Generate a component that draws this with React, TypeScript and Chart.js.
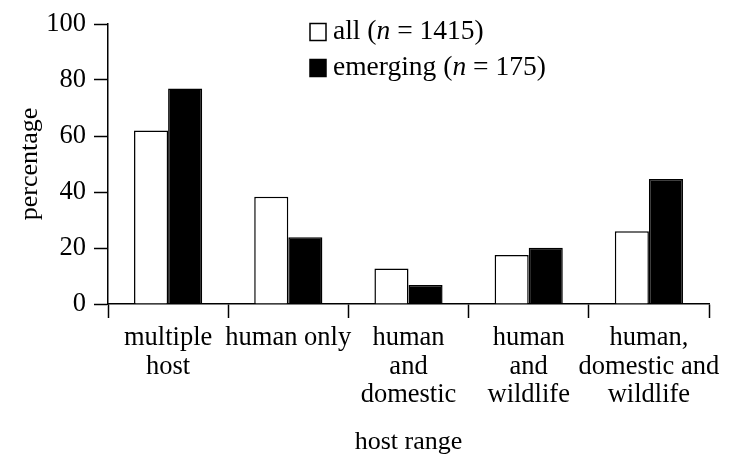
import React, { useEffect, useRef } from "react";
import { Chart, registerables } from "chart.js";

Chart.register(...registerables);

const categories: (string | string[])[] = [
  ["multiple", "host"],
  "human only",
  ["human", "and", "domestic"],
  ["human", "and", "wildlife"],
  ["human,", "domestic and", "wildlife"],
];
const allValues = [62, 38.3, 12.7, 17.5, 26];
const emergingValues = [77, 23.8, 6.8, 20.1, 44.6];
const yTicks = [0, 20, 40, 60, 80, 100];
const legendAll = ["all (", "n", " = 1415)"];
const legendEmerging = ["emerging (", "n", " = 175)"];

const FONT = "'Liberation Serif', 'Times New Roman', serif";

const legendPlugin = {
  id: "customLegend",
  afterDraw(chart: any) {
    const ctx = chart.ctx;
    ctx.save();
    const rows = [
      { parts: legendAll, fill: "#ffffff", y: 32 },
      { parts: legendEmerging, fill: "#000000", y: 68 },
    ];
    rows.forEach((row) => {
      ctx.fillStyle = row.fill;
      ctx.strokeStyle = "#000000";
      ctx.lineWidth = 1.5;
      ctx.fillRect(310, row.y - 8.5, 16, 17);
      ctx.strokeRect(310, row.y - 8.5, 16, 17);
      ctx.fillStyle = "#000000";
      ctx.textBaseline = "middle";
      ctx.textAlign = "left";
      let x = 333;
      row.parts.forEach((p, i) => {
        ctx.font = (i === 1 ? "italic " : "") + "27.5px " + FONT;
        ctx.fillText(p, x, row.y);
        x += ctx.measureText(p).width;
      });
    });
    ctx.restore();
  },
};

export default function App() {
  const ref = useRef<HTMLCanvasElement | null>(null);
  useEffect(() => {
    if (!ref.current) return;
    const chart = new Chart(ref.current, {
      type: "bar",
      data: {
        labels: categories,
        datasets: [
          {
            label: "all (n = 1415)",
            data: allValues,
            backgroundColor: "#ffffff",
            borderColor: "#000000",
            borderWidth: 1.5,
            categoryPercentage: 0.567,
            barPercentage: 1,
          },
          {
            label: "emerging (n = 175)",
            data: emergingValues,
            backgroundColor: "#000000",
            borderColor: "#000000",
            borderWidth: 1.5,
            categoryPercentage: 0.567,
            barPercentage: 1,
          },
        ],
      },
      options: {
        animation: false,
        responsive: false,
        maintainAspectRatio: false,
        layout: { padding: { top: 24, right: 27, bottom: 0, left: 0 } },
        plugins: {
          legend: { display: false },
          tooltip: { enabled: false },
        },
        scales: {
          x: {
            grid: {
              offset: true,
              drawOnChartArea: false,
              drawTicks: true,
              tickLength: 14,
              tickWidth: 1.5,
              tickColor: "#000000",
            },
            border: { display: true, color: "#000000", width: 1.5 },
            ticks: {
              color: "#000000",
              font: { family: FONT, size: 26.5, lineHeight: 1.075 },
              padding: 6,
              maxRotation: 0,
              autoSkip: false,
            },
            title: {
              display: true,
              text: "host range",
              color: "#000000",
              font: { family: FONT, size: 26, lineHeight: 1.15 },
              padding: { top: 0, bottom: 3 },
            },
            afterFit: (scale: any) => {
              scale.height = 156;
            },
          },
          y: {
            min: 0,
            max: 100,
            afterBuildTicks: (scale: any) => {
              scale.ticks = yTicks.map((v) => ({ value: v }));
            },
            grid: {
              drawOnChartArea: false,
              drawTicks: true,
              tickLength: 14,
              tickWidth: 1.5,
              tickColor: "#000000",
            },
            border: { display: true, color: "#000000", width: 1.5 },
            ticks: {
              color: "#000000",
              font: { family: FONT, size: 26.5 },
              padding: 8,
            },
            title: {
              display: true,
              text: "percentage",
              color: "#000000",
              font: { family: FONT, size: 26, lineHeight: 1.15 },
              padding: { top: 15, bottom: 0 },
            },
            afterFit: (scale: any) => {
              scale.width = 108;
            },
          },
        },
      },
      plugins: [legendPlugin],
    });
    return () => chart.destroy();
  }, []);
  return (
    <div style={{ position: "absolute", left: 0, top: 0, width: 736, height: 460, background: "#ffffff" }}>
      <canvas ref={ref} width={736} height={460} style={{ width: 736, height: 460 }} />
    </div>
  );
}
